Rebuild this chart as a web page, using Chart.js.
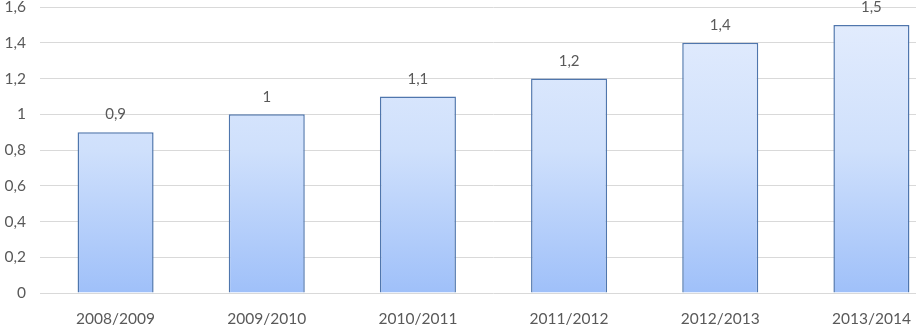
<!DOCTYPE html>
<html>
<head>
<meta charset="utf-8">
<script src="https://cdn.jsdelivr.net/npm/chart.js@4"></script>
<style>
  html, body { margin: 0; padding: 0; background: #fff; overflow: hidden; }
  #wrap { width: 916px; height: 325px; overflow: hidden; }
  #box { width: 947px; height: 325px; }
</style>
</head>
<body>
<div id="wrap"><div id="box"><canvas id="chart"></canvas></div></div>
<script>
// số liệu
const seasons = ['2008/2009', '2009/2010', '2010/2011', '2011/2012', '2012/2013', '2013/2014'];
const values = [0.9, 1, 1.1, 1.2, 1.4, 1.5];

const comma = v => String(v).replace('.', ',');

// nhãn giá trị trên đầu cột
const valueLabels = {
  id: 'valueLabels',
  afterDatasetsDraw(chart) {
    const ctx = chart.ctx;
    ctx.save();
    ctx.font = '15px Lato';
    ctx.fillStyle = '#595959';
    ctx.textAlign = 'center';
    ctx.textBaseline = 'bottom';
    chart.getDatasetMeta(0).data.forEach((bar, i) => {
      ctx.fillText(comma(values[i]), bar.x, bar.y - 10);
    });
    ctx.restore();
  }
};

new Chart(document.getElementById('chart'), {
  type: 'bar',
  data: {
    labels: seasons,
    datasets: [{
      data: values,
      backgroundColor: function (context) {
        const area = context.chart.chartArea;
        if (!area) return '#c6d9fa';
        const g = context.chart.ctx.createLinearGradient(0, area.top, 0, area.bottom);
        g.addColorStop(0, '#e4edfd');
        g.addColorStop(0.5, '#cfe0fc');
        g.addColorStop(1, '#9fc0f9');
        return g;
      },
      borderColor: '#4f76ad',
      borderWidth: 1.5,
      categoryPercentage: 1,
      barPercentage: 0.503
    }]
  },
  options: {
    responsive: true,
    maintainAspectRatio: false,
    animation: false,
    layout: { padding: { top: 7, left: 0, right: 0, bottom: 0 } },
    plugins: { legend: { display: false }, tooltip: { enabled: false } },
    scales: {
      x: {
        grid: { display: false },
        border: { display: false },
        ticks: { color: '#595959', font: { family: 'Lato', size: 15.5 }, padding: 9 },
        afterFit: s => { s.height = 32; }
      },
      y: {
        min: 0,
        max: 1.6,
        ticks: {
          stepSize: 0.2,
          color: '#595959',
          font: { family: 'Lato', size: 15.5 },
          padding: 14,
          callback: v => comma(Math.round(v * 10) / 10)
        },
        grid: { color: '#d9d9d9', lineWidth: 1, drawTicks: false },
        border: { display: false },
        afterFit: s => { s.width = 40; s.paddingTop = 0; s.paddingBottom = 0; }
      }
    }
  },
  plugins: [valueLabels]
});
</script>
</body>
</html>
